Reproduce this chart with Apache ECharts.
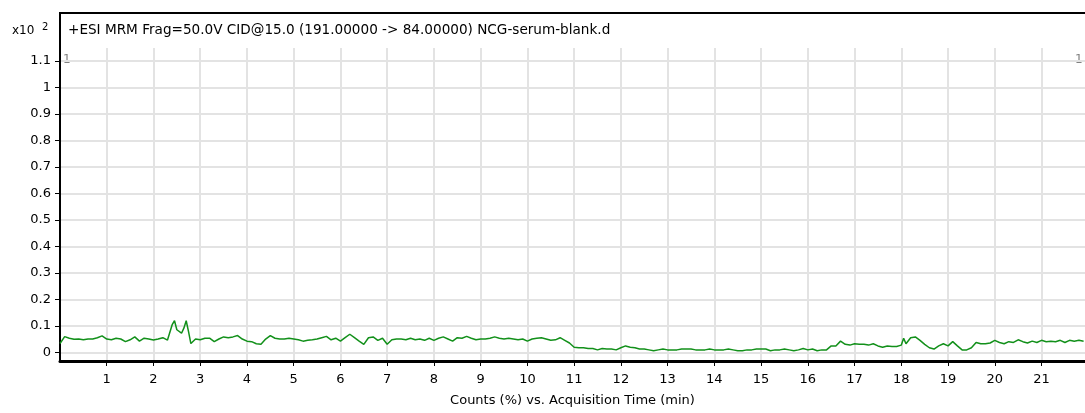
<!DOCTYPE html>
<html><head><meta charset="utf-8">
<script src="https://cdn.jsdelivr.net/npm/echarts@6/dist/echarts.min.js"></script>
<style>html,body{margin:0;padding:0;background:#fff}#c{width:1085px;height:413px}</style>
</head><body><div id="c"></div>
<script>
const titleText = '+ESI MRM Frag=50.0V CID@15.0 (191.00000 -> 84.00000) NCG-serum-blank.d';
const xAxisTitle = 'Counts (%) vs. Acquisition Time (min)';
const scaleLabel = 'x10';
const scaleExp = '2';
const xTicks = [1,2,3,4,5,6,7,8,9,10,11,12,13,14,15,16,17,18,19,20,21];
const yTicks = [0,0.1,0.2,0.3,0.4,0.5,0.6,0.7,0.8,0.9,1,1.1];
const yTickLabels = ['0','0.1','0.2','0.3','0.4','0.5','0.6','0.7','0.8','0.9','1','1.1'];

const times = [
 0.0,0.1,0.2,0.3,0.4,0.5,0.6,0.7,0.8,0.9,
 1.0,1.1,1.2,1.3,1.4,1.5,1.6,1.7,1.8,1.9,
 2.0,2.1,2.2,2.3,2.4,2.45,2.5,2.6,2.65,2.7,2.75,2.8,2.9,
 3.0,3.1,3.2,3.3,3.4,3.5,3.6,3.7,3.8,3.9,
 4.0,4.1,4.2,4.3,4.4,4.5,4.6,4.7,4.8,4.9,
 5.0,5.1,5.2,5.3,5.4,5.5,5.6,5.7,5.8,5.9,
 6.0,6.1,6.2,6.3,6.4,6.5,6.6,6.7,6.8,6.9,
 7.0,7.1,7.2,7.3,7.4,7.5,7.6,7.7,7.8,7.9,
 8.0,8.1,8.2,8.3,8.4,8.5,8.6,8.7,8.8,8.9,
 9.0,9.1,9.2,9.3,9.4,9.5,9.6,9.7,9.8,9.9,
 10.0,10.1,10.2,10.3,10.4,10.5,10.6,10.7,10.8,10.9,
 11.0,11.1,11.2,11.3,11.4,11.5,11.6,11.7,11.8,11.9,
 12.0,12.1,12.2,12.3,12.4,12.5,12.6,12.7,12.8,12.9,
 13.0,13.1,13.2,13.3,13.4,13.5,13.6,13.7,13.8,13.9,
 14.0,14.1,14.2,14.3,14.4,14.5,14.6,14.7,14.8,14.9,
 15.0,15.1,15.2,15.3,15.4,15.5,15.6,15.7,15.8,15.9,
 16.0,16.1,16.2,16.3,16.4,16.5,16.6,16.7,16.8,16.9,
 17.0,17.1,17.2,17.3,17.4,17.5,17.6,17.7,17.8,17.9,
 18.0,18.05,18.1,18.2,18.3,18.4,18.5,18.6,18.7,18.8,18.9,
 19.0,19.1,19.2,19.3,19.4,19.5,19.6,19.7,19.8,19.9,
 20.0,20.1,20.2,20.3,20.4,20.5,20.6,20.7,20.8,20.9,
 21.0,21.1,21.2,21.3,21.4,21.5,21.6,21.7,21.8,21.9
];
const counts = [
 0.033,0.059,0.053,0.049,0.050,0.047,0.050,0.050,0.055,0.062,
 0.050,0.047,0.053,0.050,0.040,0.047,0.058,0.042,0.053,0.050,
 0.046,0.050,0.055,0.046,0.104,0.119,0.085,0.072,0.091,0.119,0.078,0.033,0.050,
 0.047,0.053,0.053,0.040,0.050,0.058,0.055,0.058,0.063,0.050,
 0.042,0.040,0.032,0.030,0.050,0.063,0.053,0.050,0.050,0.053,
 0.050,0.047,0.042,0.045,0.047,0.050,0.055,0.060,0.047,0.053,
 0.042,0.055,0.068,0.055,0.042,0.030,0.055,0.058,0.045,0.053,
 0.030,0.047,0.050,0.050,0.047,0.053,0.047,0.050,0.045,0.053,
 0.045,0.053,0.058,0.050,0.042,0.055,0.053,0.060,0.053,0.047,
 0.050,0.050,0.053,0.058,0.053,0.050,0.053,0.050,0.047,0.050,
 0.042,0.050,0.053,0.055,0.050,0.045,0.047,0.055,0.045,0.035,
 0.019,0.017,0.017,0.014,0.014,0.009,0.014,0.012,0.012,0.009,
 0.017,0.024,0.019,0.017,0.012,0.012,0.009,0.006,0.009,0.012,
 0.009,0.009,0.009,0.012,0.012,0.012,0.009,0.009,0.009,0.012,
 0.009,0.009,0.009,0.012,0.009,0.006,0.006,0.009,0.009,0.012,
 0.012,0.012,0.006,0.009,0.009,0.012,0.009,0.006,0.009,0.014,
 0.009,0.012,0.006,0.009,0.009,0.024,0.024,0.042,0.030,0.027,
 0.032,0.030,0.030,0.027,0.032,0.024,0.019,0.024,0.022,0.022,
 0.027,0.053,0.032,0.055,0.058,0.045,0.030,0.017,0.012,0.024,0.032,
 0.024,0.040,0.024,0.009,0.009,0.017,0.037,0.032,0.032,0.035,
 0.045,0.037,0.032,0.040,0.037,0.047,0.040,0.035,0.042,0.037,
 0.045,0.040,0.042,0.040,0.045,0.037,0.045,0.042,0.045,0.042
];

const FONT = 'DejaVu Sans';
const chart = echarts.init(document.getElementById('c'), null, {renderer: 'canvas'});
chart.setOption({
  animation: false,
  backgroundColor: '#fff',
  grid: {left: 60, right: 0, top: 48, bottom: 52, containLabel: false, outerBoundsMode: 'none'},
  title: {
    text: titleText, left: 63, top: 18,
    textStyle: {fontFamily: FONT, fontSize: 13.6, fontWeight: 'normal', color: '#000'}
  },
  xAxis: {
    type: 'value', min: 0, max: 21.93,
    name: xAxisTitle, nameLocation: 'middle', nameGap: 33,
    nameTextStyle: {fontFamily: FONT, fontSize: 13, color: '#000'},
    axisLine: {show: true, onZero: false, lineStyle: {color: '#000', width: 3}},
    axisTick: {show: true, customValues: xTicks, length: 5, lineStyle: {color: '#000', width: 1}},
    axisLabel: {customValues: xTicks, color: '#000', fontFamily: FONT, fontSize: 13, margin: 12},
    splitLine: {show: true, lineStyle: {color: '#e3e3e3', width: 2}}
  },
  yAxis: {
    type: 'value', min: -0.033, max: 1.149,
    axisLine: {show: true, onZero: false, lineStyle: {color: '#000', width: 2}},
    axisTick: {show: true, customValues: yTicks, length: 5, lineStyle: {color: '#000', width: 1}},
    axisLabel: {customValues: yTicks, color: '#000', fontFamily: FONT, fontSize: 13, margin: 9,
      formatter: function (v) { const i = yTicks.findIndex(t => Math.abs(t - v) < 1e-6); return i >= 0 ? yTickLabels[i] : ''; }},
    splitLine: {show: true, lineStyle: {color: '#e3e3e3', width: 2}}
  },
  graphic: [
    {type: 'line', shape: {x1: 60, y1: 13, x2: 1085, y2: 13}, style: {stroke: '#000', lineWidth: 2}, z: 100},
    {type: 'line', shape: {x1: 60, y1: 12, x2: 60, y2: 49}, style: {stroke: '#000', lineWidth: 2}, z: 100},
    {type: 'text', left: 12, top: 25, style: {text: scaleLabel, font: '12px "DejaVu Sans"', fill: '#000'}},
    {type: 'text', left: 42, top: 22, style: {text: scaleExp, font: '10px "DejaVu Sans"', fill: '#000'}},
    {type: 'text', left: 63, top: 54, style: {text: '1', font: '12px "DejaVu Sans"', fill: '#808080'}},
    {type: 'text', left: 1075, top: 54, style: {text: '1', font: '12px "DejaVu Sans"', fill: '#808080'}}
  ],
  series: [{
    type: 'line',
    data: times.map((t, i) => [t, counts[i]]),
    showSymbol: false,
    lineStyle: {color: '#12901a', width: 1.5},
    itemStyle: {color: '#12901a'},
    silent: true
  }]
});
</script></body></html>
